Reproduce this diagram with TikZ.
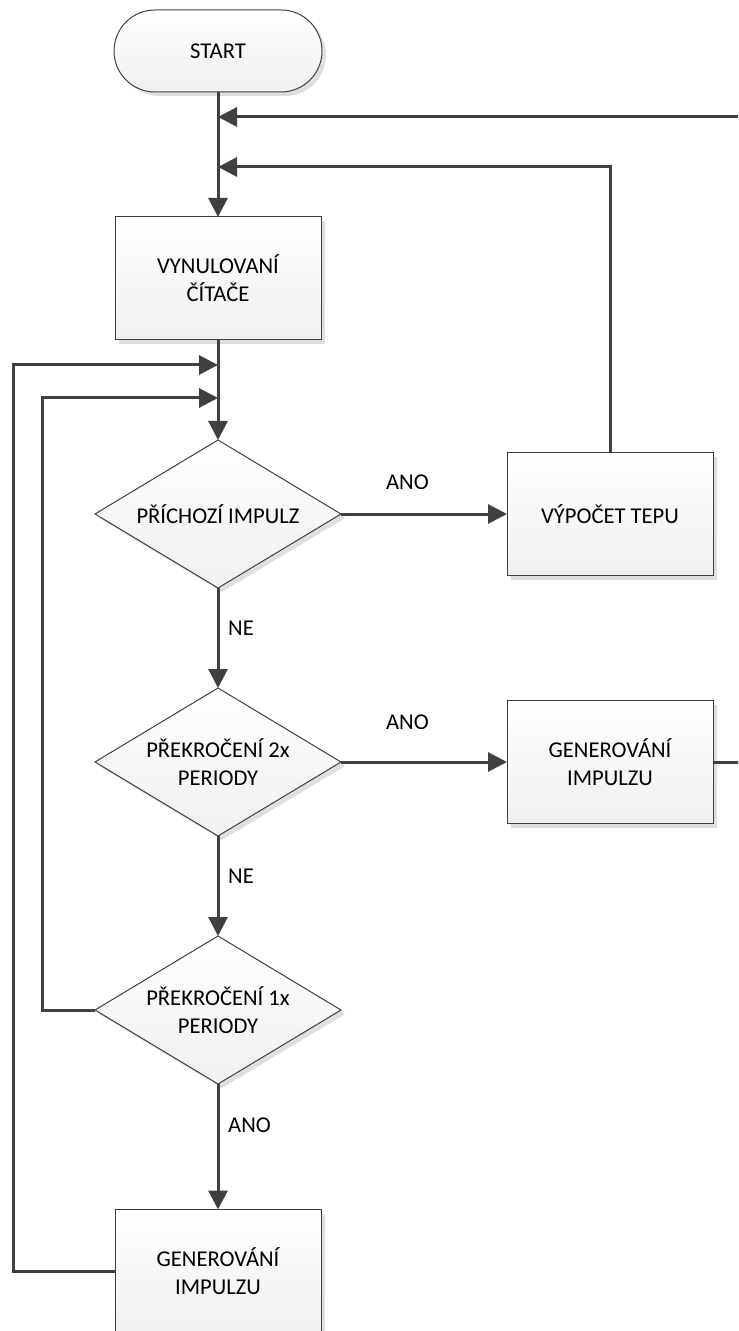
\documentclass[tikz,border=0pt]{standalone}
\usepackage{fontspec}
\setmainfont{Carlito}
\usetikzlibrary{shapes.geometric, arrows.meta, shadows}
\definecolor{linegray}{HTML}{404040}

\begin{document}
\begin{tikzpicture}[
    x=0.5pt, y=-0.5pt,
    font=\fontsize{11.3}{14}\selectfont,
    node distance=124pt,
    block/.style={rectangle, draw=linegray, line width=0.5pt, top color=white, bottom color=gray!12, minimum width=103pt, minimum height=61.5pt, align=center, outer sep=0pt, drop shadow={shadow xshift=2pt, shadow yshift=-2pt, fill=gray!25, opacity=1}},
    decision/.style={diamond, draw=linegray, line width=0.5pt, top color=white, bottom color=gray!12, minimum width=123pt, minimum height=74pt, inner sep=0pt, aspect=1.66, align=center, outer sep=0pt, drop shadow={shadow xshift=2pt, shadow yshift=-2pt, fill=gray!25, opacity=1}},
    terminal/.style={rectangle, rounded corners=20.5pt, draw=linegray, line width=0.5pt, top color=white, bottom color=gray!12, minimum width=104pt, minimum height=41pt, align=center, outer sep=0pt, drop shadow={shadow xshift=2pt, shadow yshift=-2pt, fill=gray!25, opacity=1}},
    arrow/.style={-{Triangle[length=9.5pt, width=9.5pt]}, draw=linegray, line width=1.5pt},
]
    \useasboundingbox (0,0) rectangle (738,1331);
    \clip (0,0) rectangle (738,1331);

    % Main column
    \node[terminal] (start) at (218,51) {START};
    \node[block, below of=start, yshift=10.25pt] (reset) {VYNULOVANÍ\\ČÍTAČE};
    \node[decision, below of=reset, yshift=6.25pt] (pulse) {PŘÍCHOZÍ IMPULZ};
    \node[decision, below of=pulse] (over2) {PŘEKROČENÍ 2x\\PERIODY};
    \node[decision, below of=over2] (over1) {PŘEKROČENÍ 1x\\PERIODY};
    \node[block, below of=over1, yshift=-6.5pt] (gen2) {GENEROVÁNÍ\\IMPULZU};

    % Right column
    \node[block, right of=pulse, xshift=72pt] (calc) {VÝPOČET TEPU};
    \node[block, right of=over2, xshift=72pt] (gen1) {GENEROVÁNÍ\\IMPULZU};

    % Junctions on the main line
    \coordinate (j1) at (218,117);
    \coordinate (j2) at (218,167);
    \coordinate (j3) at (218,365);
    \coordinate (j4) at (218,398);
    \coordinate (edge) at (760,117);

    % Main flow
    \draw[arrow] (start) -- (reset);
    \draw[arrow] (reset) -- (pulse);
    \draw[arrow] (pulse) -- (over2) node[pos=0.4, right=1pt] {NE};
    \draw[arrow] (over2) -- (over1) node[pos=0.4, right=1pt] {NE};
    \draw[arrow] (over1) -- (gen2) node[pos=0.33, right=1pt] {ANO};

    % Branches to the right
    \draw[arrow] (pulse) -- (calc) node[pos=0.4, yshift=16pt] {ANO};
    \draw[arrow] (over2) -- (gen1) node[pos=0.4, yshift=20pt] {ANO};

    % Feedback loops
    \draw[arrow] (gen1.east) -| (edge) -- (j1);
    \draw[arrow] (calc.north) |- (j2);
    \draw[arrow] (gen2.west) -- ++(-102,0) |- (j3);
    \draw[arrow] (over1.west) -- ++(-53,0) |- (j4);

\end{tikzpicture}
\end{document}
